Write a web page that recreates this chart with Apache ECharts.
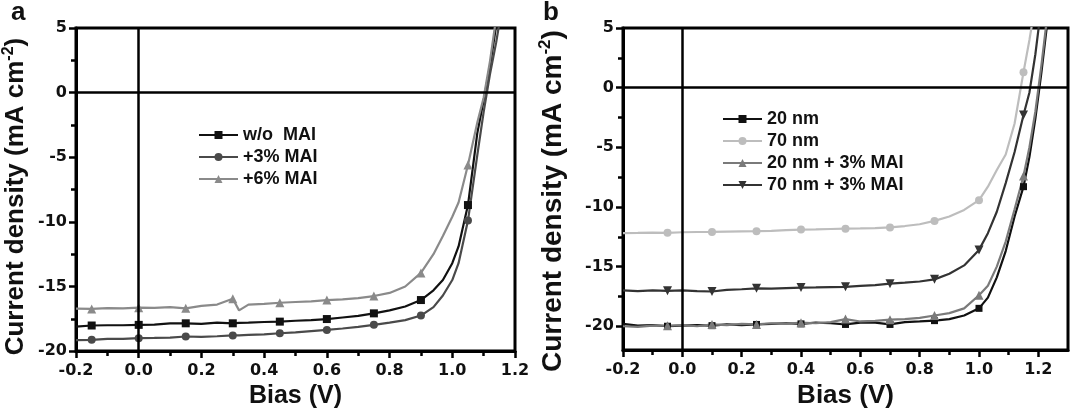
<!DOCTYPE html>
<html>
<head>
<meta charset="utf-8">
<script src="https://cdn.jsdelivr.net/npm/echarts@6/dist/echarts.min.js"></script>
<style>
html, body { margin: 0; padding: 0; background: #fff; }
#chart { width: 1074px; height: 414px; }
</style>
</head>
<body>
<div id="chart"></div>
<script>
// ---- panel a : MAI content ----
var biasA = [-0.2, -0.15, -0.1, -0.05, 0, 0.05, 0.1, 0.15, 0.2, 0.25, 0.3, 0.32, 0.35, 0.4, 0.45, 0.5, 0.55, 0.6,
    0.65, 0.7, 0.75, 0.8, 0.85, 0.9, 0.94, 0.97, 1.0, 1.02, 1.05, 1.08, 1.1, 1.12, 1.14, 1.16];
var jNoMAI = [-18.1, -18.02, -18.0, -18.0, -17.97, -17.95, -17.85, -17.85, -17.9, -17.8, -17.85, -17.82, -17.8, -17.75,
    -17.72, -17.65, -17.6, -17.52, -17.4, -17.28, -17.08, -16.85, -16.55, -16.05, -15.3, -14.5, -13.2, -11.9, -8.7,
    -3.1, -0.6, 2.0, 5.2, 8.5];
var j3MAI = [-19.15, -19.13, -19.05, -19.05, -19.0, -18.98, -18.95, -18.87, -18.9, -18.85, -18.79, -18.78, -18.75, -18.7,
    -18.62, -18.55, -18.45, -18.36, -18.25, -18.12, -17.97, -17.8, -17.6, -17.25, -16.6, -15.7, -14.5, -13.2, -9.9,
    -4.8, -1.5, 1.4, 3.9, 6.8];
var j6MAI = [-16.72, -16.74, -16.68, -16.7, -16.64, -16.66, -16.6, -16.69, -16.5, -16.4, -15.95, -16.85, -16.4, -16.35,
    -16.26, -16.2, -16.15, -16.05, -16.0, -15.9, -15.74, -15.5, -15.0, -13.95, -12.5, -11.1, -9.6, -8.5, -5.6,
    -2.3, -0.4, 2.4, 5.8, 9.0];
var markBiasA = [-0.15, 0, 0.15, 0.3, 0.45, 0.6, 0.75, 0.9, 1.05];

// ---- panel b : thickness ----
var biasB = [-0.2, -0.15, -0.1, -0.05, 0, 0.05, 0.1, 0.15, 0.2, 0.25, 0.3, 0.35, 0.4, 0.45, 0.5, 0.55, 0.6, 0.65,
    0.7, 0.75, 0.8, 0.85, 0.9, 0.95, 1.0, 1.03, 1.06, 1.09, 1.12, 1.15, 1.17, 1.19, 1.21, 1.23, 1.25];
var j20nm = [-19.8, -19.95, -19.9, -20.0, -19.95, -19.9, -19.95, -19.85, -19.9, -19.85, -19.8, -19.75, -19.8, -19.7,
    -19.75, -19.85, -19.7, -19.7, -19.85, -19.65, -19.6, -19.53, -19.4, -19.1, -18.5, -17.6, -15.9, -13.7, -10.8,
    -8.3, -5.8, -2.6, 1.2, 5.4, 10.0];
var j70nm = [-12.2, -12.18, -12.15, -12.17, -12.12, -12.1, -12.09, -12.07, -12.05, -12.03, -12.0, -11.95, -11.9, -11.88,
    -11.85, -11.82, -11.8, -11.77, -11.72, -11.6, -11.45, -11.17, -10.8, -10.25, -9.43, -8.3, -6.9, -5.6, -3.0,
    1.3, 4.0, 7.0, 10.0, 13.0, 16.0];
var j20nm3 = [-20.0, -20.05, -19.95, -19.95, -19.9, -20.0, -19.85, -19.9, -19.8, -19.85, -19.75, -19.8, -19.7, -19.75,
    -19.65, -19.4, -19.6, -19.55, -19.45, -19.4, -19.3, -19.1, -18.9, -18.5, -17.4, -16.6, -15.0, -12.9, -10.2,
    -7.4, -5.0, -2.0, 1.8, 6.0, 10.5];
var j70nm3 = [-16.99, -17.05, -17.0, -17.03, -17.0, -17.05, -17.09, -16.95, -16.9, -16.82, -16.85, -16.8, -16.76, -16.75,
    -16.72, -16.7, -16.62, -16.55, -16.43, -16.35, -16.25, -16.07, -15.6, -14.9, -13.6, -12.2, -10.4, -8.0, -5.4,
    -2.3, -0.4, 2.8, 6.8, 11.0, 15.0];
var markBiasB = [-0.05, 0.1, 0.25, 0.4, 0.55, 0.7, 0.85, 1.0, 1.15];

// ---- ticks ----
var xTicks = [-0.2, 0, 0.2, 0.4, 0.6, 0.8, 1.0, 1.2];
var xMinor = [-0.1, 0.1, 0.3, 0.5, 0.7, 0.9, 1.1];
var yTicks = [-20, -15, -10, -5, 0, 5];
var yMinor = [-17.5, -12.5, -7.5, -2.5, 2.5];

var namesA = ['w/o  MAI', '+3% MAI', '+6% MAI'];
var namesB = ['20 nm', '70 nm', '20 nm + 3% MAI', '70 nm + 3% MAI'];

var tickFont = { fontFamily: 'DejaVu Sans', fontWeight: 'bold', fontSize: 16, color: '#111' };
var titleFont = 'Liberation Sans';

function lineData(bias, j, marks) {
    var out = [];
    for (var i = 0; i < bias.length; i++) {
        var item = { value: [bias[i], j[i]] };
        if (marks.indexOf(bias[i]) < 0) item.symbol = 'none';
        out.push(item);
    }
    return out;
}

// 只画刻度的辅助轴
function tickAxis(grid, min, max, pos, values, len) {
    return {
        type: 'value', gridIndex: grid, min: min, max: max, position: pos,
        axisLine: { show: false, onZero: false },
        axisTick: { show: true, inside: false, customValues: values, length: len, lineStyle: { color: '#000', width: 2.5 } },
        axisLabel: { show: false },
        splitLine: { show: false }
    };
}

function xAxes(grid, max, fs) {
    return [{
        type: 'value', gridIndex: grid, min: -0.2, max: max, position: 'bottom',
        name: 'Bias (V)', nameLocation: 'middle', nameGap: 31,
        nameTextStyle: { fontFamily: titleFont, fontWeight: 'bold', fontSize: fs, color: '#111' },
        axisLine: { show: true, onZero: false, lineStyle: { color: '#000', width: 3 } },
        axisTick: { show: false },
        axisLabel: Object.assign({ customValues: xTicks, margin: 12, formatter: function (v) { return v.toFixed(1); } }, tickFont),
        splitLine: { show: false }
    }, tickAxis(grid, -0.2, max, 'bottom', xTicks, 7), tickAxis(grid, -0.2, max, 'bottom', xMinor, 5)];
}

function yAxes(grid, min, shift, fs, gap) {
    return [{
        type: 'value', gridIndex: grid, min: min, max: 5, position: 'left',
        name: 'Current density (mA cm{sup|-2})', nameLocation: 'middle', nameRotate: 90, nameGap: gap,
        nameTextStyle: {
            fontFamily: titleFont, fontWeight: 'bold', fontSize: fs, color: '#111', lineHeight: fs + 4,
            padding: [0, shift, 0, 0],
            rich: { sup: { fontFamily: titleFont, fontWeight: 'bold', fontSize: Math.round(fs * 0.62), lineHeight: 16, verticalAlign: 'top', color: '#111' } }
        },
        axisLine: { show: true, onZero: false, lineStyle: { color: '#000', width: 3 } },
        axisTick: { show: false },
        axisLabel: Object.assign({ customValues: yTicks, margin: 9 }, tickFont),
        splitLine: { show: false }
    }, tickAxis(grid, min, 5, 'left', yTicks, 7), tickAxis(grid, min, 5, 'left', yMinor, 5)];
}

function curve(name, bias, j, marks, axis, color, symbol, rotate, size) {
    return {
        name: name, type: 'line', xAxisIndex: axis, yAxisIndex: axis,
        data: lineData(bias, j, marks),
        symbol: symbol, symbolRotate: rotate, symbolSize: size, showAllSymbol: true,
        lineStyle: { color: color, width: 2.2 },
        itemStyle: { color: color },
        z: 3
    };
}

// 零线
function zeroLines() {
    return {
        silent: true, symbol: ['none', 'none'], label: { show: false },
        lineStyle: { color: '#000', width: 2.5, type: 'solid' },
        emphasis: { disabled: true },
        data: [{ xAxis: 0 }, { yAxis: 0 }]
    };
}

var series = [
    curve(namesA[0], biasA, jNoMAI, markBiasA, 0, '#111', 'rect', 0, 8),
    curve(namesA[1], biasA, j3MAI, markBiasA, 0, '#4a4a4a', 'circle', 0, 8),
    curve(namesA[2], biasA, j6MAI, markBiasA, 0, '#8a8a8a', 'triangle', 0, 9),
    curve(namesB[0], biasB, j20nm, markBiasB, 3, '#111', 'rect', 0, 7),
    curve(namesB[1], biasB, j70nm, markBiasB, 3, '#bdbdbd', 'circle', 0, 8),
    curve(namesB[2], biasB, j20nm3, markBiasB, 3, '#7a7a7a', 'triangle', 0, 9),
    curve(namesB[3], biasB, j70nm3, markBiasB, 3, '#333', 'triangle', 180, 9)
];
series[0].markLine = zeroLines();
series[3].markLine = zeroLines();

var legendBase = {
    orient: 'vertical', itemWidth: 39, itemHeight: 10, itemGap: 4, itemSymbolKeepAspect: true,
    textStyle: { fontFamily: titleFont, fontWeight: 'bold', fontSize: 18, color: '#111', padding: [0, 0, 0, 0] },
    selectedMode: false
};

var option = {
    animation: false,
    backgroundColor: '#fff',
    title: [
        { text: 'a', left: 11, top: 0, padding: 0, textStyle: { fontFamily: titleFont, fontWeight: 'bold', fontSize: 26, color: '#111' } },
        { text: 'b', left: 543, top: 0, padding: 0, textStyle: { fontFamily: titleFont, fontWeight: 'bold', fontSize: 26, color: '#111' } }
    ],
    legend: [
        Object.assign({ data: namesA, left: 193, top: 121 }, legendBase),
        Object.assign({ data: namesB, left: 717, top: 105 }, legendBase)
    ],
    grid: [
        { left: 72, right: 559, top: 28, bottom: 61, show: true, borderColor: '#000', borderWidth: 3, containLabel: false },
        { left: 623, right: 6, top: 28, bottom: 61, show: true, borderColor: '#000', borderWidth: 3, containLabel: false }
    ],
    xAxis: xAxes(0, 1.2, 25).concat(xAxes(1, 1.3, 26)),
    yAxis: yAxes(0, -20, 14, 26, 45).concat(yAxes(1, -22, 24, 28, 54)),
    series: series
};

var myChart = echarts.init(document.getElementById('chart'), null, { renderer: 'canvas' });
myChart.setOption(option);
</script>
</body>
</html>
